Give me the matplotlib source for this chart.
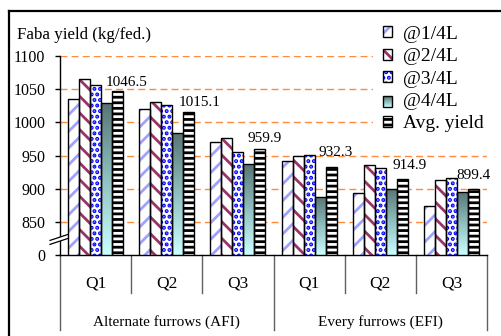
import numpy as np
import matplotlib.pyplot as plt
from matplotlib.colors import LinearSegmentedColormap
from matplotlib.patches import Rectangle, Patch, Polygon
from matplotlib.lines import Line2D

plt.rcParams['font.family'] = ['Liberation Serif', 'DejaVu Serif']
plt.rcParams['font.size'] = 11
plt.rcParams['hatch.linewidth'] = 2.0

quarters = ['Q1', 'Q2', 'Q3', 'Q1', 'Q2', 'Q3']
systems = ['Alternate furrows (AFI)', 'Every furrows (EFI)']
series = ['@1/4L', '@2/4L', '@3/4L', '@4/4L', 'Avg. yield']

yield_1 = [1035, 1020, 971, 942, 893, 874.5]
yield_2 = [1066, 1030.5, 977, 949, 936, 913]
yield_3 = [1056, 1026, 955, 951.5, 930.6, 915.5]
yield_4 = [1029, 984, 936.6, 886.7, 900, 894.6]
avg_yield = [1046.5, 1015.1, 959.9, 932.3, 914.9, 899.4]

# broken value axis: everything below 850 is squeezed into one step labelled 0
y_ticks = [800, 850, 900, 950, 1000, 1050, 1100]
y_tick_labels = ['0', '850', '900', '950', '1000', '1050', '1100']
grid_levels = [850, 900, 950, 1000, 1050, 1100]

# pixel nudges for the average labels
label_dx = [9, 11, 5, 5, 7, 0]
label_dy = [5, 6, 7, 11, 10, 10]

W, H = 501, 336
fig = plt.figure(figsize=(W / 100, H / 100), dpi=100)
ax = fig.add_axes([60 / W, 81 / H, 427 / W, 199 / H])
base = 800
ax.set_xlim(0, 6)
ax.set_ylim(base, 1100)

x = np.arange(6) + 0.5
bw = 0.1545
offs = np.array([-2, -1, 0, 1, 2]) * bw

ax.hlines(grid_levels, 0, 6, colors='#ff8c3c', linestyles=(0, (5, 3)),
          linewidth=1, zorder=0.5)

hatches = [('//', '#a0a0ff'), ('\\\\', '#993366'), ('...', '#0000ff'),
           (None, None), ('---', 'black')]
values = [yield_1, yield_2, yield_3, yield_4, avg_yield]

grad = LinearSegmentedColormap.from_list('teal', ['#ccffff', '#90c0c0', '#587474'])

for k, (vals, (hatch, hc)) in enumerate(zip(values, hatches)):
    heights = np.array(vals) - base
    xs = x + offs[k]
    if hatch is not None:
        ax.bar(xs, heights, bw, bottom=base, color='white', edgecolor=hc,
               hatch=hatch, linewidth=0, zorder=3)
    else:
        bars = ax.bar(xs, heights, bw, bottom=base, color='none', linewidth=0, zorder=3)
        g = np.linspace(0, 1, 256).reshape(-1, 1)
        for b in bars:
            im = ax.imshow(g, cmap=grad, aspect='auto', origin='lower', zorder=3,
                           extent=[b.get_x(), b.get_x() + bw, base, base + b.get_height()])
            im.set_clip_path(b)
    ax.bar(xs, heights, bw, bottom=base, color='none', edgecolor='black',
           linewidth=1, zorder=3.5)

for xi, v, dx, dy in zip(x + offs[4], avg_yield, label_dx, label_dy):
    ax.annotate(f'{v:.1f}', (xi, v), xytext=(dx, dy), textcoords='offset pixels',
                ha='center', va='baseline', fontsize=11, zorder=6)

ax.set_yticks(y_ticks, y_tick_labels)
ax.set_xticks([])
ax.tick_params(axis='y', direction='out', length=3.5, width=1, pad=7, labelsize=11.5)
for s in ['top', 'right']:
    ax.spines[s].set_visible(False)
ax.spines['left'].set_linewidth(1)
ax.spines['bottom'].set_linewidth(1)
ax.spines['left'].set_zorder(2.5)


# break marks on the value axis, offsets given in axis pixels
def to_axes(dxpix, value):
    return dxpix / 427, (value - base) / 300


brk_y = 822
p = [to_axes(-10, brk_y - 6), to_axes(8, brk_y + 3),
     to_axes(8, brk_y + 9), to_axes(-10, brk_y)]
ax.add_patch(Polygon(p, closed=True, facecolor='white', edgecolor='none',
                     transform=ax.transAxes, zorder=2.6, clip_on=False))
for a, b in [(p[0], p[1]), (p[3], p[2])]:
    ax.add_line(Line2D([a[0], b[0]], [a[1], b[1]], color='black', lw=0.9,
                       transform=ax.transAxes, zorder=2.7, clip_on=False))

# category axis: quarter labels and system labels with separators
xt = ax.get_xaxis_transform()
for b in [1, 2, 4, 5]:
    ax.plot([b, b], [0, -0.191], color='#606060', lw=1, transform=xt, clip_on=False)
for b in [0, 3, 6]:
    ax.plot([b, b], [0, -0.377], color='#606060', lw=1, transform=xt, clip_on=False)
for xi, q in zip(x, quarters):
    ax.text(xi, -0.141, q, transform=xt, ha='center', va='center', fontsize=12.5)
for xi, s in zip([1.5, 4.5], systems):
    ax.text(xi, -0.337, s, transform=xt, ha='center', va='center', fontsize=11)

fig.text(17 / W, 1 - 35 / H, 'Faba yield (kg/fed.)', ha='left', va='center',
         fontsize=12.2)


class GradientHandle:
    def legend_artist(self, legend, orig_handle, fontsize, handlebox):
        x0, y0 = handlebox.xdescent, handlebox.ydescent
        w, h = handlebox.width, handlebox.height
        n = 12
        for i in range(n):
            handlebox.add_artist(Rectangle((x0, y0 + i * h / n), w, h / n,
                                           facecolor=grad(i / (n - 1)), edgecolor='none',
                                           transform=handlebox.get_transform()))
        box = Rectangle((x0, y0), w, h, fill=False, edgecolor='black', lw=1,
                        transform=handlebox.get_transform())
        handlebox.add_artist(box)
        return box


grad_key = Patch()
handles = []
for hatch, hc in hatches:
    if hatch is None:
        handles.append(grad_key)
    else:
        handles.append((Patch(facecolor='white', edgecolor=hc, hatch=hatch, lw=0),
                        Patch(facecolor='none', edgecolor='black', lw=1)))
leg = ax.legend(handles, series, handler_map={grad_key: GradientHandle()},
                loc='upper left', bbox_to_anchor=(373 / W, 1 - 16 / H),
                bbox_transform=fig.transFigure, borderaxespad=0, borderpad=0.5,
                handlelength=0.5, handleheight=0.5, handletextpad=0.55,
                labelspacing=0.28, frameon=True, fancybox=False, fontsize=14)
leg.get_frame().set_edgecolor('none')
leg.get_frame().set_facecolor('white')
leg.get_frame().set_alpha(1)
leg.set_zorder(7)

# outer frame
fig.add_artist(Line2D([9 / W, 9 / W], [0, 1 - 11 / H], color='black', lw=1.6,
                      transform=fig.transFigure))
fig.add_artist(Line2D([9 / W, 1], [1 - 11 / H, 1 - 11 / H], color='black', lw=1.6,
                      transform=fig.transFigure))

fig.savefig('out.png', dpi=100)
